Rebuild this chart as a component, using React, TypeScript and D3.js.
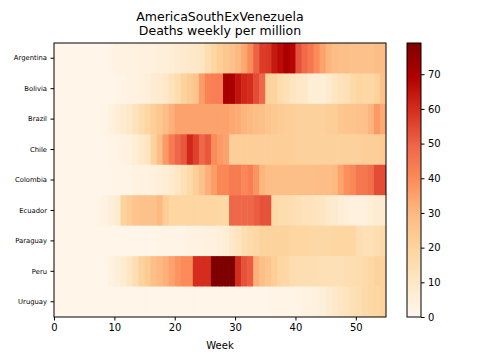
import React, { useRef, useEffect } from 'react';
import * as d3 from 'd3';

// rows top to bottom
const countries = ['Argentina', 'Bolivia', 'Brazil', 'Chile', 'Colombia', 'Ecuador', 'Paraguay', 'Peru', 'Uruguay'];

// weekly deaths per million, weeks 0..54
const argentina = [
  1, 1, 1, 1, 1, 1, 1, 1, 1, 2,
  3, 3, 3, 3, 4, 4, 4, 5, 5, 6,
  7, 8, 9, 10, 11, 15, 19, 22, 25, 27,
  30, 34, 40, 50, 57, 58, 64, 67, 71, 68,
  53, 48, 45, 40, 35, 31, 29, 28, 28, 27,
  27, 27, 27, 29, 29,
];
const bolivia = [
  1, 1, 1, 1, 1, 1, 1, 1, 1, 1,
  2, 2, 3, 3, 4, 5, 7, 8, 10, 13,
  16, 20, 23, 26, 36, 42, 43, 43, 71, 71,
  65, 61, 60, 54, 49, 20, 20, 16, 14, 12,
  10, 10, 6, 6, 6, 8, 11, 13, 14, 17,
  19, 18, 18, 20, 27,
];
const brazil = [
  1, 1, 1, 1, 1, 1, 1, 1, 2, 4,
  6, 8, 10, 13, 16, 19, 22, 25, 29, 32,
  35, 35, 35, 35, 35, 35, 35, 35, 35, 34,
  33, 31, 30, 29, 28, 26, 24, 23, 22, 22,
  21, 21, 21, 21, 21, 22, 22, 25, 26, 26,
  27, 27, 31, 37, 33,
];
const chile = [
  1, 1, 1, 1, 1, 1, 1, 1, 1, 2,
  2, 3, 4, 6, 9, 12, 20, 29, 37, 44,
  49, 52, 61, 56, 49, 52, 40, 37, 35, 22,
  22, 22, 22, 22, 22, 22, 22, 22, 22, 22,
  21, 21, 21, 21, 21, 21, 21, 21, 21, 21,
  21, 22, 22, 22, 23,
];
const colombia = [
  1, 1, 1, 1, 1, 1, 1, 1, 1, 1,
  2, 2, 2, 3, 3, 3, 4, 5, 6, 8,
  11, 14, 17, 22, 27, 32, 36, 41, 41, 44,
  44, 41, 43, 38, 31, 29, 28, 28, 28, 28,
  28, 28, 28, 29, 29, 29, 30, 35, 39, 41,
  45, 45, 47, 54, 54,
];
const ecuador = [
  1, 1, 1, 1, 1, 1, 1, 2, 3, 5,
  7, 20, 23, 26, 27, 27, 27, 30, 22, 19,
  19, 19, 19, 19, 19, 19, 19, 18, 18, 49,
  49, 49, 49, 51, 53, 53, 17, 16, 16, 15,
  14, 13, 13, 12, 11, 9, 8, 6, 5, 4,
  4, 4, 6, 7, 8,
];
const paraguay = [
  1, 1, 1, 1, 1, 1, 1, 1, 1, 1,
  1, 1, 1, 1, 1, 1, 1, 2, 2, 2,
  2, 2, 3, 3, 3, 4, 4, 5, 6, 10,
  12, 15, 17, 18, 20, 20, 20, 20, 20, 19,
  19, 19, 18, 18, 18, 18, 19, 19, 19, 19,
  15, 14, 14, 15, 17,
];
const peru = [
  1, 1, 1, 1, 1, 1, 1, 1, 1, 3,
  5, 7, 11, 15, 20, 23, 28, 30, 32, 35,
  38, 40, 40, 60, 60, 60, 79, 79, 79, 79,
  60, 53, 51, 32, 28, 26, 22, 19, 18, 16,
  15, 15, 15, 15, 14, 14, 14, 14, 15, 15,
  16, 17, 18, 20, 20,
];
const uruguay = [
  1, 1, 1, 1, 1, 1, 1, 1, 1, 1,
  1, 1, 1, 1, 1, 1, 1, 1, 1, 1,
  1, 1, 1, 1, 1, 1, 1, 1, 1, 1,
  1, 1, 1, 1, 1, 1, 2, 2, 2, 2,
  2, 3, 3, 4, 5, 7, 9, 11, 12, 14,
  15, 17, 18, 19, 20,
];

const weekTicks = [0, 10, 20, 30, 40, 50];
const colorTicks = [0, 10, 20, 30, 40, 50, 60, 70];
// matplotlib OrRd
const orRd = ['#fff7ec', '#fee8c8', '#fdd49e', '#fdbb84', '#fc8d59', '#ef6548', '#d7301f', '#b30000', '#7f0000'];

const FONT = 'DejaVu Sans, sans-serif';

const App = () => {
  const svgRef = useRef(null);

  useEffect(() => {
    if (!svgRef.current) return;
    const svg = d3.select(svgRef.current);
    svg.selectAll('*').remove();

    const rows = [argentina, bolivia, brazil, chile, colombia, ecuador, paraguay, peru, uruguay];
    const nWeeks = argentina.length;
    const left = 54, right = 386, top = 43, bottom = 317;

    const x = d3.scaleLinear().domain([0, nWeeks]).range([left, right]);
    const y = d3.scaleBand().domain(countries).range([top, bottom]);
    const vmax = d3.max(rows.flat()) as number;
    const color = d3.scaleLinear<string>()
      .domain(orRd.map((_, i) => (i * vmax) / 8))
      .range(orRd)
      .interpolate(d3.interpolateRgb)
      .clamp(true);

    // cells
    const cells = svg.append('g');
    rows.forEach((vals, r) => {
      cells.selectAll(null)
        .data(vals)
        .enter()
        .append('rect')
        .attr('x', (_, i) => x(i))
        .attr('y', y(countries[r]) as number)
        .attr('width', (_, i) => x(i + 1) - x(i) + (i < nWeeks - 1 ? 0.6 : 0))
        .attr('height', y.bandwidth() + (r < countries.length - 1 ? 0.6 : 0))
        .attr('fill', d => color(d));
    });

    // frame
    svg.append('rect')
      .attr('x', left).attr('y', top)
      .attr('width', right - left).attr('height', bottom - top)
      .attr('fill', 'none').attr('stroke', '#000').attr('stroke-width', 1);

    const xAxis = svg.append('g')
      .attr('transform', `translate(0,${bottom})`)
      .call(d3.axisBottom(x).tickValues(weekTicks).tickFormat(d3.format('d')).tickSize(3.5).tickPadding(3.5));
    xAxis.select('.domain').remove();
    xAxis.selectAll('text').attr('font-size', 10).attr('font-family', FONT).attr('fill', '#000');

    const yAxis = svg.append('g')
      .attr('transform', `translate(${left},0)`)
      .call(d3.axisLeft(y).tickSize(3.5).tickPadding(3.5));
    yAxis.select('.domain').remove();
    yAxis.selectAll('text').attr('font-size', 6.8).attr('font-family', FONT).attr('fill', '#000');

    // colorbar
    const cbX = 407, cbW = 14;
    const grad = svg.append('defs').append('linearGradient')
      .attr('id', 'cbgrad')
      .attr('x1', 0).attr('y1', 1).attr('x2', 0).attr('y2', 0);
    orRd.forEach((c, i) => {
      grad.append('stop').attr('offset', i / 8).attr('stop-color', c);
    });
    svg.append('rect')
      .attr('x', cbX).attr('y', top)
      .attr('width', cbW).attr('height', bottom - top)
      .attr('fill', 'url(#cbgrad)')
      .attr('stroke', '#000').attr('stroke-width', 1);

    const cScale = d3.scaleLinear().domain([0, vmax]).range([bottom, top]);
    const cAxis = svg.append('g')
      .attr('transform', `translate(${cbX + cbW},0)`)
      .call(d3.axisRight(cScale).tickValues(colorTicks).tickFormat(d3.format('d')).tickSize(3.5).tickPadding(3.5));
    cAxis.select('.domain').remove();
    cAxis.selectAll('text').attr('font-size', 10).attr('font-family', FONT).attr('fill', '#000');

    // title and label
    const mid = (left + right) / 2;
    svg.append('text')
      .attr('x', mid).attr('y', 21)
      .attr('text-anchor', 'middle')
      .attr('font-family', FONT).attr('font-size', 12.5)
      .text('AmericaSouthExVenezuela');
    svg.append('text')
      .attr('x', mid).attr('y', 35)
      .attr('text-anchor', 'middle')
      .attr('font-family', FONT).attr('font-size', 12.5)
      .text('Deaths weekly per million');
    svg.append('text')
      .attr('x', mid).attr('y', 349)
      .attr('text-anchor', 'middle')
      .attr('font-family', FONT).attr('font-size', 10)
      .text('Week');
  }, []);

  return (
    <div style={{ position: 'fixed', left: 0, top: 0, width: 480, height: 360, background: '#fff' }}>
      <svg ref={svgRef} width={480} height={360} style={{ display: 'block' }}></svg>
    </div>
  );
};

export default App;
